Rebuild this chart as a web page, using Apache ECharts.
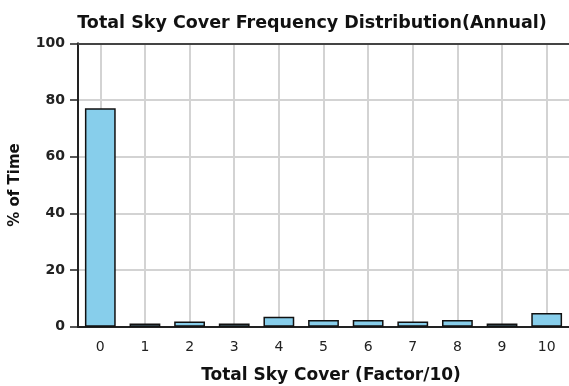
<!DOCTYPE html>
<html><head><meta charset="utf-8">
<script src="https://cdn.jsdelivr.net/npm/echarts@6/dist/echarts.min.js"></script>
<style>html,body{margin:0;padding:0;background:#fff}#c{width:569px;height:386px}</style>
</head><body><div id="c"></div>
<script>
const categories = ['0','1','2','3','4','5','6','7','8','9','10'];
const values = [77.1, 1.1, 1.8, 1.1, 3.5, 2.4, 2.4, 1.8, 2.4, 1.1, 4.8];
const yTicks = [0, 20, 40, 60, 80, 100];
const titleText = 'Total Sky Cover Frequency Distribution(Annual)';
const xName = 'Total Sky Cover (Factor/10)';
const yName = '% of Time';

const boldFont = 'DejaVu Sans';
const chart = echarts.init(document.getElementById('c'), null, {renderer:'canvas'});
chart.setOption({
  animation: false,
  title: [
    {text: titleText, left: 307, top: 9, textAlign: 'center',
     textStyle: {fontFamily: boldFont, fontWeight: 'bold', fontSize: 17.5, color: '#111'}},
    {text: xName, left: 326, top: 362, textAlign: 'center',
     textStyle: {fontFamily: boldFont, fontWeight: 'bold', fontSize: 17, color: '#111'}}
  ],
  grid: {left: 76.5, top: 43.3, width: 494, height: 283.4, containLabel: false},
  xAxis: [{
    type: 'category', data: categories, boundaryGap: true,
    axisLine: {lineStyle: {color: '#222', width: 2}},
    axisTick: {alignWithLabel: true, length: 7, lineStyle: {color: '#222', width: 2}},
    axisLabel: {margin: 14, fontFamily: 'DejaVu Sans', fontSize: 14, color: '#222'},
    splitLine: {show: true, alignWithLabel: true, lineStyle: {color: '#d3d3d3', width: 2}}
  },{
    type: 'category', data: categories, position: 'top',
    axisLine: {lineStyle: {color: '#444', width: 2}},
    axisTick: {show: false}, axisLabel: {show: false}, splitLine: {show: false}
  }],
  yAxis: {
    type: 'value', min: yTicks[0], max: yTicks[yTicks.length-1], interval: 20,
    name: yName, nameLocation: 'middle', nameGap: 55, nameRotate: 90,
    nameTextStyle: {fontFamily: boldFont, fontWeight: 'bold', fontSize: 15, color: '#111'},
    axisLine: {show: true, lineStyle: {color: '#222', width: 2}},
    axisTick: {show: true, length: 8, lineStyle: {color: '#222', width: 1.5}},
    axisLabel: {margin: 13, fontFamily: boldFont, fontWeight: 'bold', fontSize: 14, color: '#222'},
    splitLine: {show: true, lineStyle: {color: '#d3d3d3', width: 2}}
  },
  series: [{
    type: 'bar', data: values, barCategoryGap: '31%',
    itemStyle: {color: '#87CEEB', borderColor: '#111', borderWidth: 1.5}
  }]
});
</script></body></html>
